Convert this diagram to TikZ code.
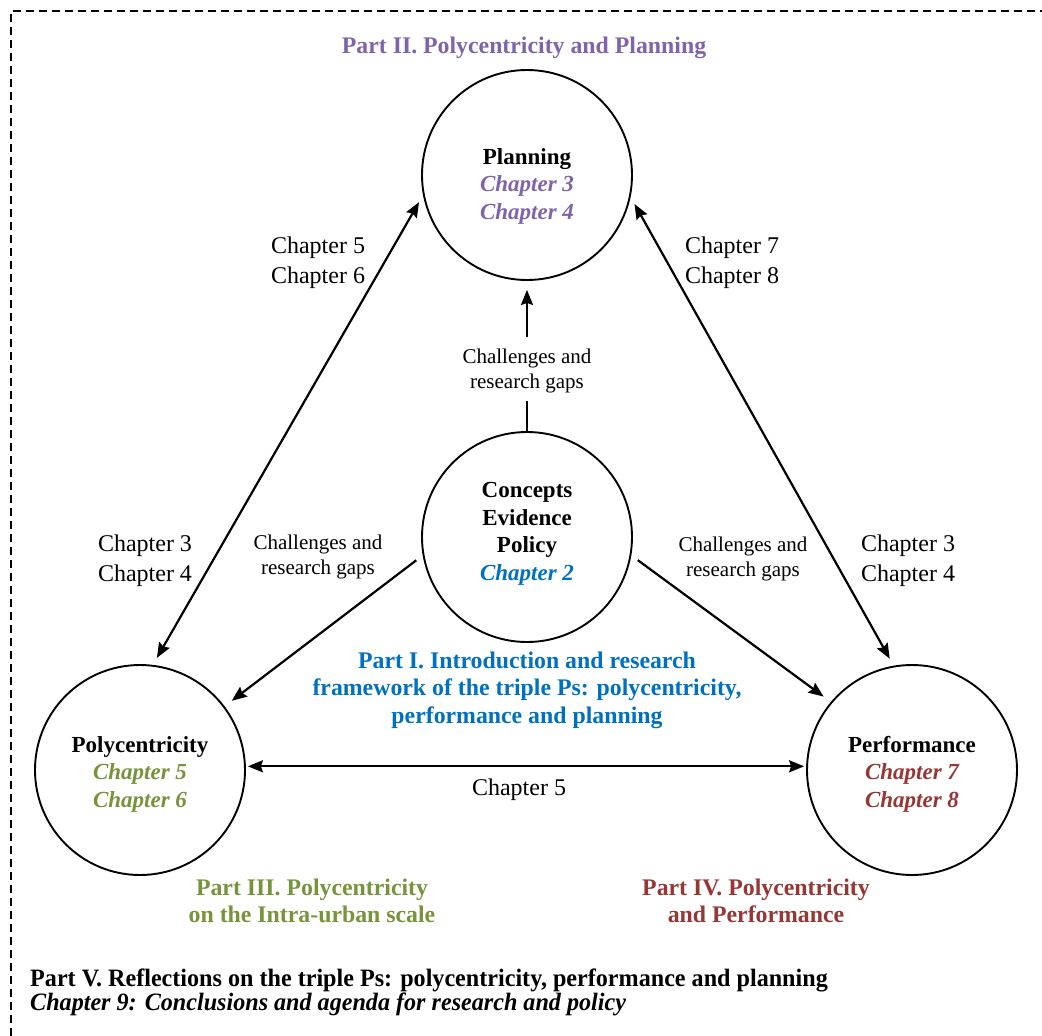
\documentclass[tikz,border=0pt]{standalone}
\usepackage{fontspec}
\setmainfont{Liberation Serif}
\newfontfamily\condfont{Liberation Serif}[FakeStretch=0.965]
\usetikzlibrary{arrows.meta}
\definecolor{ppurple}{RGB}{128,100,170}
\definecolor{pblue}{RGB}{0,112,192}
\definecolor{pgreen}{RGB}{119,147,60}
\definecolor{pred}{RGB}{149,55,53}
\begin{document}
\begin{tikzpicture}[x=1pt,y=-1pt,
  circ/.style={circle,draw,line width=1.9pt,minimum size=210pt,inner sep=0pt},
  ctext/.style={align=center,inner sep=0pt,font=\fontsize{23}{27.5}\selectfont},
  lbl/.style={align=center,inner sep=0pt,font=\fontsize{24}{30}\selectfont},
  small/.style={align=center,inner sep=0pt,font=\fontsize{21}{25}\selectfont},
  part/.style={align=center,inner sep=0pt,font=\fontsize{23.8}{27.5}\selectfont\bfseries},
  tip/.tip={Stealth[length=15pt,width=12pt,inset=2pt]},
  conn/.style={line width=2.2pt,-tip},
  dconn/.style={line width=2.2pt,tip-tip},
  border/.style={line width=2pt,dash pattern=on 8pt off 5pt},
]
\useasboundingbox (0,0) rectangle (1042,1036);
\draw[border] (11,1036) -- (11,11) -- (1042,11);

\node[circ] (plan) at (527,175) {};
\node[circ] (conc) at (527,537) {};
\node[circ] (poly) at (140,770) {};
\node[circ] (perf) at (912,770) {};

\node[ctext] (planT) at (527,186) {\textbf{Planning}\\\textcolor{ppurple}{\bfseries\itshape Chapter 3}\\\textcolor{ppurple}{\bfseries\itshape Chapter 4}};
\node[ctext] (concT) at (527,534) {\textbf{Concepts}\\\textbf{Evidence}\\\textbf{Policy}\\\textcolor{pblue}{\bfseries\itshape Chapter 2}};
\node[ctext] (polyT) at (140,774) {\textbf{Polycentricity}\\\textcolor{pgreen}{\bfseries\itshape Chapter 5}\\\textcolor{pgreen}{\bfseries\itshape Chapter 6}};
\node[ctext] (perfT) at (912,774) {\textbf{Performance}\\\textcolor{pred}{\bfseries\itshape Chapter 7}\\\textcolor{pred}{\bfseries\itshape Chapter 8}};

\node[part,text=ppurple] (p2) at (524,48) {Part II. Polycentricity and Planning};
\node[lbl] (c56) at (318,263) {Chapter 5\\Chapter 6};
\node[lbl] (c78) at (732,263) {Chapter 7\\Chapter 8};
\node[small] (chg) at (527,371) {Challenges and\\research gaps};
\node[lbl] (c34l) at (145,561) {Chapter 3\\Chapter 4};
\node[small] (chgl) at (318,557) {Challenges and\\research gaps};
\node[small] (chgr) at (743,559) {Challenges and\\research gaps};
\node[lbl] (c34r) at (908,561) {Chapter 3\\Chapter 4};
\node[part,text=pblue] (p1) at (527,690) {Part I. Introduction and research\\framework of the triple Ps: polycentricity,\\performance and planning};
\node[lbl] (c5) at (519,790) {Chapter 5};
\node[part,text=pgreen] (p3) at (312,901) {Part III. Polycentricity\\on the Intra-urban scale};
\node[part,text=pred] (p4) at (756,901) {Part IV. Polycentricity\\and Performance};
\node[anchor=west,align=left,inner sep=0pt,font=\condfont\fontsize{25}{22}\selectfont\bfseries] (p5) at (30,992) {Part V. Reflections on the triple Ps: polycentricity, performance and planning\\\itshape Chapter 9: Conclusions and agenda for research and policy};

\draw[dconn,shorten <=8pt,shorten >=8pt] (plan.191) -- (poly.83);
\draw[dconn,shorten <=8pt,shorten >=8pt] (plan.348) -- (perf.100);
\draw[conn,shorten <=8pt,shorten >=9pt] (conc.190) -- (poly.37);
\draw[conn,shorten <=8pt,shorten >=9pt] (conc.350) -- (perf.140);
\draw[dconn,shorten <=2pt,shorten >=2pt] (poly.2) -- (perf.178);
\draw[line width=2.2pt,shorten >=8pt] (conc.north) -- (chg.south);
\draw[conn,shorten <=12pt,shorten >=9pt] (chg.north) -- (plan.south);
\end{tikzpicture}
\end{document}
